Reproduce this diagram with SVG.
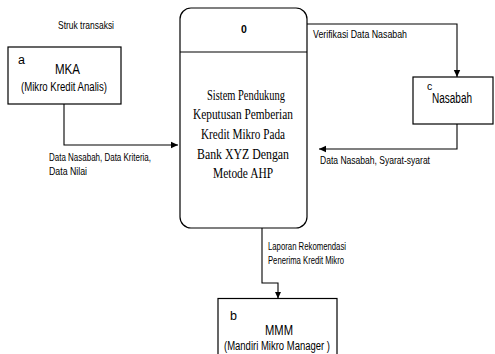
<svg xmlns="http://www.w3.org/2000/svg" width="495" height="354" viewBox="0 0 495 354">
<style>
.box{fill:#fff;stroke:#000;stroke-width:1.2}
.ln{fill:none;stroke:#000;stroke-width:1.1}
.s{font-family:"Liberation Sans",Arial,sans-serif;fill:#000}
.lbl{font-size:10.5px}
.sr{font-family:"Liberation Serif","Times New Roman",serif;font-size:15px;fill:#000}
</style>
<defs>
<marker id="ah" markerWidth="8" markerHeight="8" refX="7" refY="4" orient="auto" markerUnits="userSpaceOnUse">
<path d="M0,0.8 L7,4 L0,7.2 Z" fill="#000"/>
</marker>
</defs>
<rect width="495" height="354" fill="#fff"/>
<text class="s lbl" x="58" y="29" textLength="56" lengthAdjust="spacingAndGlyphs">Struk transaksi</text>

<g id="connectors">
<path class="ln" d="M64,104 V145 H178" marker-end="url(#ah)"/>
<path class="ln" d="M307,24 H457 V77" marker-end="url(#ah)"/>
<path class="ln" d="M457,124 V149 H319" marker-end="url(#ah)"/>
<path class="ln" d="M262,228 V283 H278 V298.5" marker-end="url(#ah)"/>
<text class="s lbl" x="313" y="38" textLength="94" lengthAdjust="spacingAndGlyphs">Verifikasi Data Nasabah</text>
<text class="s lbl" x="49" y="161" textLength="102" lengthAdjust="spacingAndGlyphs">Data Nasabah, Data Kriteria,</text>
<text class="s lbl" x="49" y="175" textLength="38" lengthAdjust="spacingAndGlyphs">Data Nilai</text>
<text class="s lbl" x="320" y="164" textLength="110" lengthAdjust="spacingAndGlyphs">Data Nasabah, Syarat-syarat</text>
<text class="s lbl" x="268" y="250" textLength="78" lengthAdjust="spacingAndGlyphs">Laporan Rekomendasi</text>
<text class="s lbl" x="268" y="264" textLength="76" lengthAdjust="spacingAndGlyphs">Penerima Kredit Mikro</text>
</g>

<g id="mka">
<rect class="box" x="8" y="47" width="113" height="57"/>
<text class="s" x="18" y="64" font-size="12.5">a</text>
<text class="s" x="55" y="74" font-size="15" textLength="25" lengthAdjust="spacingAndGlyphs">MKA</text>
<text class="s" x="21" y="91" font-size="12" textLength="86" lengthAdjust="spacingAndGlyphs">(Mikro Kredit Analis)</text>
</g>

<g id="process0">
<rect class="box" x="180" y="8" width="127" height="220" rx="11" ry="11"/>
<line class="ln" x1="180" y1="52" x2="307" y2="52"/>
<text class="s" x="244" y="33" font-size="10.5" font-weight="bold" text-anchor="middle">0</text>
<text class="sr" x="207" y="99.5" textLength="78" lengthAdjust="spacingAndGlyphs">Sistem Pendukung</text>
<text class="sr" x="193" y="119" textLength="100" lengthAdjust="spacingAndGlyphs">Keputusan Pemberian</text>
<text class="sr" x="201" y="139" textLength="84" lengthAdjust="spacingAndGlyphs">Kredit Mikro Pada</text>
<text class="sr" x="197" y="158.5" textLength="92" lengthAdjust="spacingAndGlyphs">Bank XYZ Dengan</text>
<text class="sr" x="213" y="178" textLength="60" lengthAdjust="spacingAndGlyphs">Metode AHP</text>
</g>

<g id="nasabah">
<rect class="box" x="413" y="77" width="80" height="47"/>
<text class="s" x="427" y="90" font-size="10.5">c</text>
<text class="s" x="432" y="102.5" font-size="14" textLength="40" lengthAdjust="spacingAndGlyphs">Nasabah</text>
</g>

<g id="mmm">
<rect class="box" x="218" y="298.5" width="119" height="60"/>
<text class="s" x="230" y="320" font-size="12.5">b</text>
<text class="s" x="265" y="335" font-size="14" textLength="28" lengthAdjust="spacingAndGlyphs">MMM</text>
<text class="s" x="224" y="350" font-size="12" textLength="106" lengthAdjust="spacingAndGlyphs">(Mandiri Mikro Manager )</text>
</g>
</svg>
